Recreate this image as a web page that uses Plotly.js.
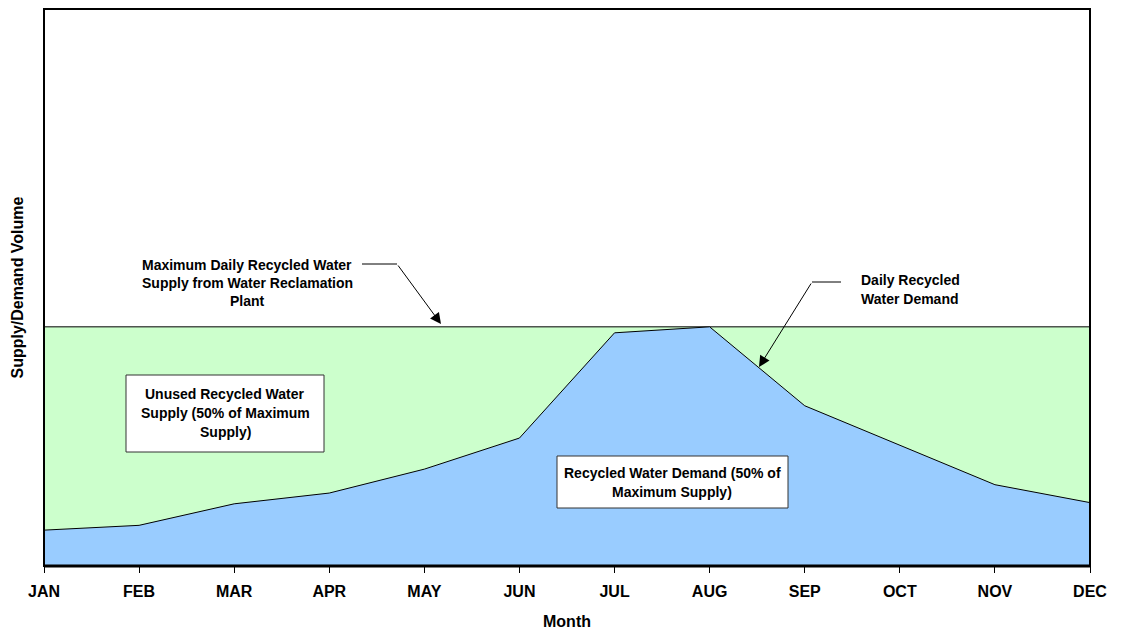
<!DOCTYPE html>
<html>
<head>
<meta charset="utf-8">
<script src="https://cdn.plot.ly/plotly-3.0.1.min.js"></script>
<style>
  html, body { margin: 0; padding: 0; background: #fff; }
  #chart { width: 1121px; height: 630px; }
</style>
</head>
<body>
<div id="chart"></div>
<script>
// Monthly recycled water supply vs demand (percent of maximum daily supply)
const months = ['JAN', 'FEB', 'MAR', 'APR', 'MAY', 'JUN', 'JUL', 'AUG', 'SEP', 'OCT', 'NOV', 'DEC'];
const maxSupply = [100, 100, 100, 100, 100, 100, 100, 100, 100, 100, 100, 100];
const demand = [15, 17, 26, 30.5, 40.5, 53.5, 97.5, 100, 67, 50.5, 34, 26.5];

const FONT = 'Liberation Sans, Arial, sans-serif';

// Plot area in pixels (used to place callouts)
const W = 1121, H = 630;
const M = { l: 44, r: 31, t: 9, b: 64 };
const PW = W - M.l - M.r, PH = H - M.t - M.b;
const px = x => (x - M.l) / PW;
const py = y => (H - M.b - y) / PH;

const traces = [
  {
    x: months, y: maxSupply, type: 'scatter', mode: 'lines',
    fill: 'tozeroy', fillcolor: '#CCFFCC',
    line: { color: '#000', width: 1 }, hoverinfo: 'skip', showlegend: false
  },
  {
    x: months, y: demand, type: 'scatter', mode: 'lines',
    fill: 'tozeroy', fillcolor: '#99CCFF',
    line: { color: '#000', width: 1 }, hoverinfo: 'skip', showlegend: false
  }
];

// Text lines placed individually for even line spacing
function textLines(lines, cx, y0, step) {
  return lines.map((t, i) => ({
    text: '<b>' + t + '</b>', xref: 'paper', yref: 'paper',
    x: px(cx), y: py(y0 + i * step), xanchor: 'center', yanchor: 'middle',
    showarrow: false, font: { family: FONT, size: 14, color: '#000' }
  }));
}

const arrowStyle = { showarrow: true, arrowhead: 2, arrowsize: 2.2, arrowwidth: 1, arrowcolor: '#000' };

const annotations = [
  ...textLines(['Maximum Daily Recycled Water', 'Supply from Water Reclamation', 'Plant'], 247, 265, 18),
  ...textLines(['Daily Recycled', 'Water Demand'], 910, 280, 19),
  ...textLines(['Unused Recycled Water', 'Supply (50% of Maximum', 'Supply)'], 225, 394, 19),
  ...textLines(['Recycled Water Demand (50% of', 'Maximum Supply)'], 672, 473, 19),
  // Arrow to the maximum supply line
  Object.assign({
    text: '', xref: 'paper', yref: 'paper', x: px(441), y: py(324),
    axref: 'pixel', ayref: 'pixel', ax: -44, ay: -60
  }, arrowStyle),
  // Arrow to the demand curve
  Object.assign({
    text: '', xref: 'paper', yref: 'paper', x: px(759), y: py(367),
    axref: 'pixel', ayref: 'pixel', ax: 53, ay: -85
  }, arrowStyle),
  // Vertical axis title
  {
    text: '<b>Supply/Demand Volume</b>', xref: 'paper', yref: 'paper',
    x: px(17), y: 0.5, xanchor: 'center', yanchor: 'middle', textangle: -90,
    showarrow: false, font: { family: FONT, size: 16, color: '#000' }
  },
  // Horizontal axis title
  {
    text: '<b>Month</b>', xref: 'paper', yref: 'paper',
    x: px(567), y: py(621), xanchor: 'center', yanchor: 'middle',
    showarrow: false, font: { family: FONT, size: 16, color: '#000' }
  }
];

const shapes = [
  // leader segments
  { type: 'line', xref: 'paper', yref: 'paper', x0: px(362), y0: py(264), x1: px(397), y1: py(264), line: { color: '#000', width: 1 } },
  { type: 'line', xref: 'paper', yref: 'paper', x0: px(812), y0: py(282), x1: px(841), y1: py(282), line: { color: '#000', width: 1 } },
  // label boxes
  { type: 'rect', xref: 'paper', yref: 'paper', x0: px(126), y0: py(452), x1: px(324), y1: py(375), fillcolor: '#fff', line: { color: '#333', width: 1 }, layer: 'above' },
  { type: 'rect', xref: 'paper', yref: 'paper', x0: px(557), y0: py(508), x1: px(788), y1: py(456), fillcolor: '#fff', line: { color: '#333', width: 1 }, layer: 'above' },
  // plot frame
  { type: 'rect', xref: 'paper', yref: 'paper', x0: 0, y0: 0, x1: 1, y1: 1, line: { color: '#000', width: 2 }, layer: 'above' },
  { type: 'line', xref: 'paper', yref: 'paper', x0: 0, y0: 0, x1: 1, y1: 0, line: { color: '#000', width: 3 }, layer: 'above' }
];

const layout = {
  width: W, height: H,
  margin: M,
  paper_bgcolor: '#fff', plot_bgcolor: '#fff',
  font: { family: FONT, color: '#000' },
  showlegend: false,
  xaxis: {
    type: 'category', range: [0, 11],
    showgrid: false, zeroline: false,
    showline: false,
    ticks: 'outside', ticklen: 6, tickwidth: 1, tickcolor: '#000',
    ticklabelstandoff: 5,
    tickfont: { family: FONT, size: 16, color: '#000', weight: 'bold' }
  },
  yaxis: {
    range: [0, 232.9], showgrid: false, zeroline: false,
    showticklabels: false, ticks: '', showline: false
  },
  annotations: annotations,
  shapes: shapes
};

Plotly.newPlot('chart', traces, layout, { displayModeBar: false, staticPlot: true });
</script>
</body>
</html>
